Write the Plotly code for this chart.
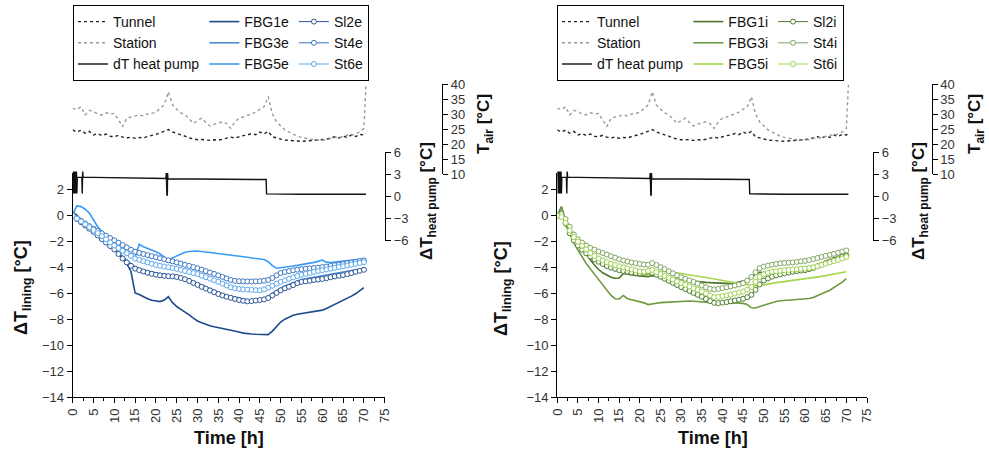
import plotly.graph_objects as go

W, H = 989, 455


def fx(px):
    return px / W


def fy(py):
    return 1 - py / H


# ---------------- data ----------------
time_h = list(range(0, 71))

# left panel (exterior)
fbg1e = [0.25, 0.05, -0.30, -0.60, -0.90, -1.20, -1.50, -1.78, -2.05, -2.32,
         -2.60, -2.95, -3.30, -3.70, -4.30, -5.95, -6.08, -6.25, -6.40, -6.52,
         -6.58, -6.62, -6.50, -6.25, -6.70, -7.00, -7.22, -7.42, -7.65, -7.90,
         -8.12, -8.25, -8.38, -8.48, -8.56, -8.62, -8.68, -8.74, -8.80, -8.88,
         -8.97, -9.05, -9.10, -9.12, -9.14, -9.16, -9.18, -9.17, -8.90, -8.55,
         -8.20, -7.98, -7.80, -7.68, -7.60, -7.55, -7.50, -7.44, -7.38, -7.33,
         -7.28, -7.15, -7.00, -6.86, -6.70, -6.52, -6.36, -6.20, -6.02, -5.80,
         -5.55]
fbg3e = [0.05, -0.20, -0.45, -0.72, -0.98, -1.22, -1.48, -1.74, -2.00, -2.26,
         -2.52, -2.84, -3.15, -3.45, -3.72, -3.95, -4.08, -4.18, -4.27, -4.35,
         -4.42, -4.48, -4.52, -4.55, -4.60, -4.68, -4.78, -4.90, -5.02, -5.12,
         -5.22, -5.35, -5.50, -5.65, -5.80, -5.93, -6.04, -6.14, -6.22, -6.30,
         -6.38, -6.44, -6.48, -6.48, -6.46, -6.42, -6.36, -6.22, -6.00, -5.78,
         -5.58, -5.42, -5.28, -5.15, -5.02, -4.92, -4.86, -4.80, -4.75, -4.70,
         -4.65, -4.60, -4.54, -4.48, -4.43, -4.38, -4.32, -4.25, -4.18, -4.12,
         -4.05]
fbg5e = [0.10, 0.75, 0.70, 0.50, 0.20, -0.34, -0.85, -1.20, -1.48, -1.75,
         -2.02, -2.30, -2.55, -2.80, -3.05, -3.20, -2.20, -2.40, -2.52, -2.65,
         -2.78, -2.95, -3.15, -3.40, -3.25, -3.10, -2.95, -2.82, -2.76, -2.72,
         -2.72, -2.76, -2.80, -2.84, -2.88, -2.90, -2.93, -2.96, -2.99, -3.03,
         -3.08, -3.14, -3.20, -3.26, -3.30, -3.34, -3.38, -3.55, -3.85, -4.05,
         -4.02, -3.98, -3.92, -3.88, -3.83, -3.78, -3.72, -3.66, -3.60, -3.52,
         -3.42, -3.58, -3.62, -3.58, -3.55, -3.52, -3.48, -3.44, -3.40, -3.36,
         -3.32]
sl2e = [0.00, -0.25, -0.50, -0.75, -1.00, -1.25, -1.52, -1.80, -2.07, -2.34,
        -2.60, -2.95, -3.30, -3.60, -3.86, -4.08, -4.20, -4.30, -4.40, -4.48,
        -4.55, -4.60, -4.64, -4.66, -4.68, -4.72, -4.80, -4.90, -5.03, -5.18,
        -5.33, -5.48, -5.62, -5.76, -5.90, -6.04, -6.15, -6.25, -6.33, -6.42,
        -6.50, -6.56, -6.60, -6.58, -6.54, -6.50, -6.45, -6.34, -6.15, -5.95,
        -5.75, -5.60, -5.48, -5.35, -5.20, -5.10, -5.06, -5.01, -4.96, -4.92,
        -4.88, -4.82, -4.74, -4.68, -4.63, -4.58, -4.50, -4.42, -4.33, -4.25,
        -4.17]
st4e = [0.00, -0.20, -0.40, -0.60, -0.80, -1.00, -1.18, -1.36, -1.54, -1.72,
        -1.90, -2.08, -2.26, -2.44, -2.62, -2.78, -2.87, -2.95, -3.04, -3.12,
        -3.20, -3.28, -3.36, -3.44, -3.52, -3.60, -3.69, -3.78, -3.87, -3.96,
        -4.05, -4.16, -4.27, -4.38, -4.49, -4.60, -4.72, -4.84, -4.95, -5.02,
        -5.05, -5.06, -5.07, -5.07, -5.06, -5.05, -5.01, -4.95, -4.80, -4.60,
        -4.42, -4.34, -4.27, -4.21, -4.16, -4.12, -4.09, -4.06, -4.03, -4.00,
        -3.96, -3.92, -3.87, -3.82, -3.77, -3.72, -3.66, -3.61, -3.56, -3.50,
        -3.44]
st6e = [0.00, -0.22, -0.44, -0.66, -0.88, -1.10, -1.34, -1.58, -1.82, -2.06,
        -2.30, -2.50, -2.70, -2.90, -3.10, -3.30, -3.40, -3.50, -3.60, -3.70,
        -3.80, -3.86, -3.92, -3.98, -4.04, -4.10, -4.18, -4.26, -4.34, -4.42,
        -4.50, -4.62, -4.74, -4.86, -4.98, -5.10, -5.24, -5.38, -5.52, -5.60,
        -5.65, -5.68, -5.70, -5.72, -5.74, -5.75, -5.68, -5.55, -5.40, -5.24,
        -5.10, -4.98, -4.86, -4.75, -4.65, -4.55, -4.48, -4.40, -4.33, -4.26,
        -4.20, -4.14, -4.08, -4.02, -3.96, -3.90, -3.84, -3.77, -3.71, -3.64,
        -3.58]

# right panel (interior)
fbg1i = [0.00, 0.70, -0.40, -1.05, -1.55, -1.90, -2.40, -2.95, -3.40, -3.80,
         -4.15, -4.40, -4.60, -4.75, -4.82, -4.80, -4.45, -4.52, -4.56, -4.60,
         -4.64, -4.68, -4.70, -4.62, -4.68, -4.70, -4.72, -4.78, -4.84, -4.90,
         -4.95, -4.98, -5.02, -5.06, -5.10, -5.12, -5.14, -5.16, -5.18, -5.20,
         -5.22, -5.24, -5.24, -5.20, -5.12, -5.04, -4.96, -4.75, -4.50, -4.36,
         -4.38, -4.34, -4.28, -4.22, -4.20, -4.18, -4.15, -4.12, -4.10, -4.06,
         -4.02, -3.98, -3.94, -3.88, -3.80, -3.70, -3.60, -3.48, -3.36, -3.22,
         -3.08]
fbg3i = [0.00, 0.65, -0.70, -1.45, -2.10, -2.65, -3.20, -3.68, -4.10, -4.50,
         -4.90, -5.30, -5.72, -6.15, -6.40, -6.42, -6.15, -6.40, -6.48, -6.55,
         -6.62, -6.72, -6.85, -6.82, -6.75, -6.70, -6.68, -6.66, -6.64, -6.62,
         -6.60, -6.60, -6.58, -6.60, -6.62, -6.64, -6.68, -6.72, -6.75, -6.74,
         -6.72, -6.70, -6.70, -6.72, -6.74, -6.76, -6.85, -7.10, -7.12, -6.98,
         -6.90, -6.80, -6.70, -6.62, -6.56, -6.54, -6.52, -6.50, -6.48, -6.45,
         -6.42, -6.38, -6.30, -6.18, -6.02, -5.88, -5.75, -5.55, -5.35, -5.12,
         -4.85]
fbg5i = [0.00, 0.40, -0.35, -1.05, -1.65, -2.15, -2.55, -2.85, -3.08, -3.30,
         -3.48, -3.65, -3.82, -3.96, -4.08, -4.18, -4.28, -4.38, -4.46, -4.52,
         -4.56, -4.58, -4.55, -4.42, -4.32, -4.28, -4.30, -4.33, -4.36, -4.40,
         -4.46, -4.52, -4.58, -4.63, -4.68, -4.72, -4.77, -4.82, -4.88, -4.93,
         -4.98, -5.05, -5.12, -5.18, -5.24, -5.30, -5.34, -5.38, -5.40, -5.40,
         -5.33, -5.26, -5.20, -5.16, -5.12, -5.08, -5.04, -5.00, -4.96, -4.92,
         -4.88, -4.84, -4.80, -4.74, -4.68, -4.62, -4.56, -4.50, -4.44, -4.38,
         -4.32]
sl2i = [0.00, 0.20, -0.60, -1.35, -1.90, -2.30, -2.62, -2.90, -3.15, -3.36,
        -3.55, -3.72, -3.88, -4.00, -4.10, -4.20, -4.26, -4.32, -4.38, -4.42,
        -4.45, -4.40, -4.30, -4.40, -4.55, -4.70, -4.86, -5.02, -5.18, -5.34,
        -5.50, -5.65, -5.80, -5.95, -6.10, -6.25, -6.42, -6.58, -6.72, -6.74,
        -6.70, -6.66, -6.60, -6.54, -6.47, -6.40, -6.28, -6.10, -5.72, -5.30,
        -5.00, -4.84, -4.70, -4.60, -4.52, -4.45, -4.38, -4.32, -4.27, -4.23,
        -4.20, -4.12, -4.02, -3.90, -3.78, -3.65, -3.52, -3.40, -3.28, -3.16,
        -3.06]
st4i = [0.00, 0.10, -0.25, -0.85, -1.45, -1.82, -2.08, -2.30, -2.48, -2.62,
        -2.76, -2.88, -3.00, -3.12, -3.24, -3.36, -3.45, -3.53, -3.60, -3.66,
        -3.72, -3.76, -3.78, -3.65, -3.80, -3.96, -4.12, -4.28, -4.44, -4.60,
        -4.74, -4.86, -4.98, -5.10, -5.24, -5.38, -5.52, -5.64, -5.68, -5.64,
        -5.58, -5.52, -5.45, -5.38, -5.30, -5.20, -5.00, -4.72, -4.36, -4.05,
        -3.92, -3.85, -3.78, -3.72, -3.68, -3.64, -3.62, -3.60, -3.56, -3.52,
        -3.48, -3.42, -3.34, -3.26, -3.18, -3.10, -3.02, -2.94, -2.85, -2.76,
        -2.68]
st6i = [0.00, -0.10, -0.55, -1.15, -1.65, -2.00, -2.32, -2.60, -2.88, -3.10,
        -3.30, -3.45, -3.58, -3.70, -3.80, -3.90, -3.98, -4.06, -4.14, -4.22,
        -4.30, -4.32, -4.25, -4.18, -4.35, -4.50, -4.64, -4.78, -4.92, -5.06,
        -5.20, -5.33, -5.46, -5.59, -5.72, -5.85, -6.00, -6.15, -6.28, -6.26,
        -6.20, -6.14, -6.08, -6.00, -5.92, -5.85, -5.70, -5.50, -5.10, -4.72,
        -4.52, -4.40, -4.32, -4.28, -4.24, -4.21, -4.18, -4.15, -4.12, -4.10,
        -4.07, -4.03, -3.98, -3.90, -3.80, -3.70, -3.60, -3.50, -3.40, -3.30,
        -3.18]

# air temperatures [°C]
air_time = list(range(0, 71)) + [70.5]
station = [31.9, 31.5, 32.4, 29.7, 31.2, 30.8, 30.0, 29.7, 30.4, 30.0,
           30.2, 28.0, 25.8, 28.6, 29.0, 29.4, 29.7, 29.3, 30.0, 30.2,
           30.6, 31.9, 33.0, 37.4, 33.0, 31.6, 30.4, 29.8, 28.4, 26.9,
           27.8, 28.6, 27.2, 26.0, 26.6, 27.0, 27.4, 26.8, 25.2, 27.4,
           28.6, 29.0, 29.5, 30.2, 30.6, 31.6, 32.4, 35.8, 30.0, 27.4,
           26.0, 24.7, 24.0, 23.3, 22.6, 22.2, 21.9, 21.6, 21.4, 21.3,
           21.3, 21.4, 21.8, 22.2, 22.0, 22.4, 23.0, 22.8, 23.4, 24.0,
           25.2, 39.7]
tunnel = [24.7, 24.0, 24.6, 23.6, 24.2, 23.0, 23.5, 22.8, 23.3, 22.6,
          22.4, 22.9, 22.3, 22.0, 22.3, 21.9, 22.2, 22.0, 22.5, 22.8,
          23.2, 23.7, 24.2, 24.8, 24.0, 23.6, 23.0, 22.6, 22.0, 21.7,
          21.4, 21.5, 21.3, 21.2, 21.4, 21.3, 21.6, 21.9, 22.3, 22.0,
          22.5, 22.8, 23.0, 23.5, 23.1, 24.0, 23.4, 24.2, 22.4, 22.0,
          21.6, 21.3, 21.2, 21.0, 21.0, 20.9, 21.0, 21.2, 21.1, 21.3,
          21.4, 21.6, 22.0, 22.4, 22.0, 22.6, 22.2, 23.0, 22.5, 23.2,
          23.0, 23.5]

# heat pump temperature difference [°C]
hp_time = [0.0, 0.1, 0.2, 0.3, 0.4, 0.5, 0.6, 0.7, 0.8, 0.9, 1.0, 1.1,
           2.2, 2.3, 2.4, 2.5, 5, 10, 15, 20,
           22.4, 22.5, 22.55, 22.6, 22.65, 22.7, 22.75, 22.8, 22.9,
           25, 30, 35, 40, 45, 46.5, 46.6, 50, 55, 60, 65, 70.5]
hp_dT = [2.6, 3.4, 0.4, 3.4, 0.4, 3.4, 0.4, 3.4, 0.4, 3.4, 0.4, 2.6,
         2.6, 0.4, 3.4, 2.6, 2.6, 2.55, 2.5, 2.45,
         2.45, 3.2, 0.1, 3.2, 0.1, 3.2, 0.1, 3.2, 2.4,
         2.4, 2.35, 2.3, 2.3, 2.3, 2.3, 0.35, 0.3, 0.3, 0.3, 0.3, 0.3]

x_ticks = list(range(0, 80, 5))
lining_ticks = list(range(-14, 4, 2))
hp_ticks = [-6, -3, 0, 3, 6]
air_ticks = [10, 15, 20, 25, 30, 35, 40]

# ---------------- styling ----------------
FONT = "Liberation Sans, Arial, sans-serif"
TICKFONT = dict(family=FONT, size=13, color="#333333")

left_colors = {"FBG1e": "#1c4a8c", "FBG3e": "#4a8ad6", "FBG5e": "#3a9cf6",
               "Sl2e": "#2b5596", "St4e": "#3b76c2", "St6e": "#5aa9ee"}
right_colors = {"FBG1i": "#4b7628", "FBG3i": "#6c9a3e", "FBG5i": "#a6d84a",
                "Sl2i": "#4e7a2e", "St4i": "#7fa55e", "St6i": "#9fd24e"}

fig = go.Figure()


def add_panel(xa, ya_main, ya_hp, ya_air, legend, gp, colors, lines, circles):
    fig.add_trace(go.Scatter(x=air_time, y=tunnel, name="Tunnel", mode="lines",
                             xaxis=xa, yaxis=ya_air, legend=legend, legendgroup=gp + "a",
                             line=dict(color="#222222", width=1.4, dash="dot")))
    fig.add_trace(go.Scatter(x=air_time, y=station, name="Station", mode="lines",
                             xaxis=xa, yaxis=ya_air, legend=legend, legendgroup=gp + "a",
                             line=dict(color="#9a9a9a", width=1.4, dash="dot")))
    fig.add_trace(go.Scatter(x=hp_time, y=hp_dT, name="dT heat pump", mode="lines",
                             xaxis=xa, yaxis=ya_hp, legend=legend, legendgroup=gp + "a",
                             line=dict(color="#111111", width=1.4)))
    for name, vals in lines:
        fig.add_trace(go.Scatter(x=time_h, y=vals, name=name, mode="lines",
                                 xaxis=xa, yaxis=ya_main, legend=legend, legendgroup=gp + "b",
                                 line=dict(color=colors[name], width=1.6)))
    for name, vals in circles:
        fig.add_trace(go.Scatter(x=time_h, y=vals, name=name, mode="lines+markers",
                                 xaxis=xa, yaxis=ya_main, legend=legend, legendgroup=gp + "c",
                                 line=dict(color=colors[name], width=1),
                                 marker=dict(symbol="circle", size=5, color="white",
                                             line=dict(color=colors[name], width=1))))


add_panel("x", "y", "y3", "y5", "legend", "L", left_colors,
          [("FBG1e", fbg1e), ("FBG3e", fbg3e), ("FBG5e", fbg5e)],
          [("Sl2e", sl2e), ("St4e", st4e), ("St6e", st6e)])
add_panel("x2", "y2", "y4", "y6", "legend2", "R", right_colors,
          [("FBG1i", fbg1i), ("FBG3i", fbg3i), ("FBG5i", fbg5i)],
          [("Sl2i", sl2i), ("St4i", st4i), ("St6i", st6i)])

axis_common = dict(showline=True, linecolor="black", linewidth=1.2, showgrid=False,
                   zeroline=False, ticks="outside", ticklen=5, tickwidth=1.2,
                   tickcolor="black", tickfont=TICKFONT, automargin=False)

main_dom = [fy(397.3), fy(172.9)]
hp_dom = [fy(240.7), fy(152.3)]
air_dom = [fy(174.0), fy(84.0)]

x_common = dict(axis_common, range=[0, 75], tickvals=x_ticks, tickangle=-90,
                minor=dict(dtick=2.5, ticklen=3, ticks="outside", tickcolor="black"))

legend_common = dict(xanchor="left", yanchor="top", orientation="h",
                     traceorder="grouped", tracegroupgap=0, itemwidth=30,
                     bgcolor="white", bordercolor="black", borderwidth=1,
                     font=dict(family=FONT, size=14, color="#111111"))

fig.update_layout(
    width=W, height=H, autosize=False,
    margin=dict(l=0, r=0, t=0, b=0),
    paper_bgcolor="white", plot_bgcolor="rgba(0,0,0,0)",
    showlegend=True,
    xaxis=dict(x_common, domain=[fx(72.7), fx(384.7)], anchor="y"),
    xaxis2=dict(x_common, domain=[fx(557.3), fx(867.0)], anchor="y2"),
    yaxis=dict(axis_common, domain=main_dom, range=[-14, 3.3], tickvals=lining_ticks, anchor="x"),
    yaxis2=dict(axis_common, domain=main_dom, range=[-14, 3.3], tickvals=lining_ticks, anchor="x2"),
    yaxis3=dict(axis_common, domain=hp_dom, range=[-6, 6], tickvals=hp_ticks,
                anchor="free", position=fx(385), side="right"),
    yaxis4=dict(axis_common, domain=hp_dom, range=[-6, 6], tickvals=hp_ticks,
                anchor="free", position=fx(873), side="right"),
    yaxis5=dict(axis_common, domain=air_dom, range=[10, 40], tickvals=air_ticks,
                anchor="free", position=fx(442), side="right"),
    yaxis6=dict(axis_common, domain=air_dom, range=[10, 40], tickvals=air_ticks,
                anchor="free", position=fx(931.5), side="right"),
    legend=dict(legend_common, x=fx(73), y=fy(5)),
    legend2=dict(legend_common, x=fx(557), y=fy(5)),
)

titles = [
    ("<b>Time [h]</b>", 229, 438, 0, 18),
    ("<b>Time [h]</b>", 713, 438, 0, 18),
    ("<b>ΔT<sub>lining</sub> [°C]</b>", 22, 288, -90, 18),
    ("<b>ΔT<sub>lining</sub> [°C]</b>", 502, 288, -90, 18),
    ("<b>ΔT<sub>heat pump</sub> [°C]</b>", 428, 201, -90, 17),
    ("<b>ΔT<sub>heat pump</sub> [°C]</b>", 920, 201, -90, 17),
    ("<b>T<sub>air</sub> [°C]</b>", 485, 124, -90, 17),
    ("<b>T<sub>air</sub> [°C]</b>", 976, 124, -90, 17),
]
for text, px, py, ang, size in titles:
    fig.add_annotation(text=text, x=fx(px), y=fy(py), xref="paper", yref="paper",
                       xanchor="center", yanchor="middle", textangle=ang, showarrow=False,
                       font=dict(family=FONT, size=size, color="#111111"))

fig.write_html("out.html", config={"displayModeBar": False},
               post_script="document.body.style.margin='0px';document.body.style.overflow='hidden';")
